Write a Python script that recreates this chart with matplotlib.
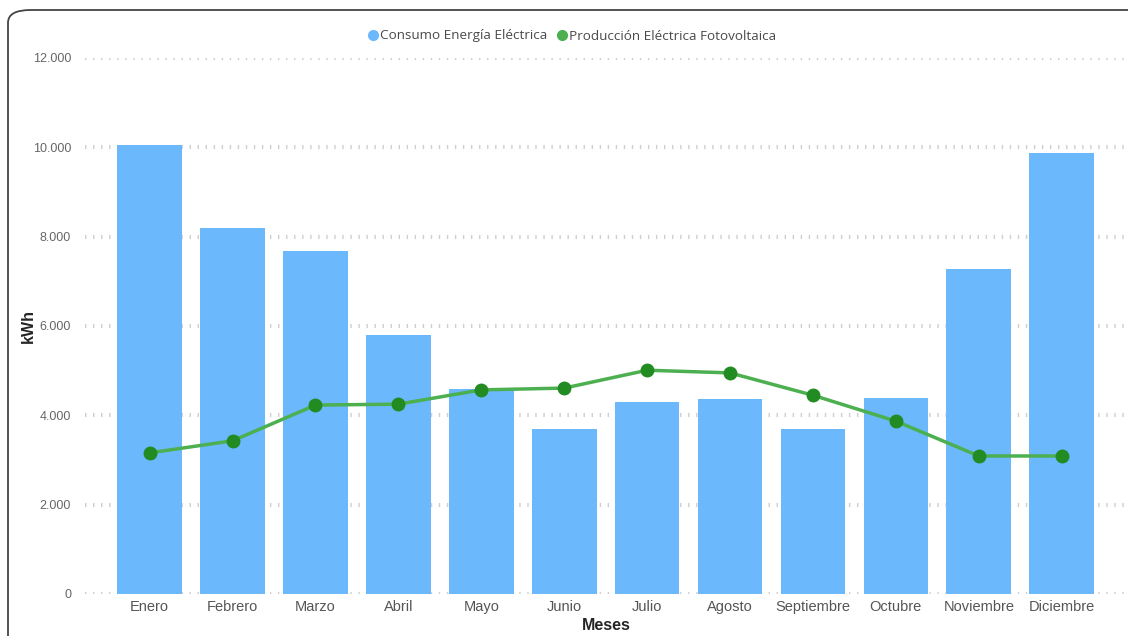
import matplotlib.pyplot as plt
import numpy as np
from matplotlib.patches import FancyBboxPatch
from matplotlib.lines import Line2D

meses = ['Enero', 'Febrero', 'Marzo', 'Abril', 'Mayo', 'Junio', 'Julio',
         'Agosto', 'Septiembre', 'Octubre', 'Noviembre', 'Diciembre']
consumo = [10050, 8190, 7680, 5800, 4590, 3690, 4300, 4370, 3690, 4390, 7280, 9870]
produccion = [3160, 3430, 4230, 4250, 4570, 4610, 5010, 4950, 4450, 3870, 3090, 3090]
yticks = [0, 2000, 4000, 6000, 8000, 10000, 12000]
ytick_labels = ['0', '2.000', '4.000', '6.000', '8.000', '10.000', '12.000']

bar_color = '#6cb8fd'
line_color = '#4caf50'
marker_color = '#228b22'

fig = plt.figure(figsize=(11.28, 6.36), dpi=100)
ax = fig.add_axes([85/1128, 1-594/636, 1-85/1128, (594-58)/636])

# rounded card border
card = FancyBboxPatch((8/1128, -0.05), 1.2, 1-10/636+0.05,
                      boxstyle='round,pad=0,rounding_size=0.02',
                      transform=fig.transFigure, facecolor='none',
                      edgecolor='#444444', linewidth=1.3, zorder=0)
fig.patches.append(card)

x = np.arange(len(meses))

# dotted gridlines made of short vertical ticks
for yv in yticks:
    ax.axhline(yv, color='#cfcfcf', linewidth=3, linestyle=(0, (0.33, 1.6)),
               zorder=0)

ax.bar(x, consumo, width=0.78, color=bar_color, zorder=2)
ax.plot(x, produccion, color=line_color, linewidth=2.5, zorder=3)
ax.plot(x, produccion, linestyle='none', marker='o', markersize=9,
        color=marker_color, zorder=4)

ax.set_xlim(-0.78, 11.8)
ax.set_ylim(0, 12000)
ax.set_yticks(yticks)
ax.set_yticklabels(ytick_labels, fontsize=9, color='#666666', family='Liberation Sans')
ax.set_xticks(x)
ax.set_xticklabels(meses, fontsize=10.5, color='#555555', family='Liberation Sans')
ax.tick_params(length=0, axis='y', pad=10)
ax.tick_params(length=0, axis='x', pad=4)
for s in ax.spines.values():
    s.set_visible(False)
ax.set_facecolor('none')

fig.text(28/1128, 1-326/636, 'kWh', rotation=90, ha='center', va='center',
         fontsize=11.5, fontweight='bold', color='#252525', family='Liberation Sans')
fig.text(606/1128, 1-625/636, 'Meses', ha='center', va='center',
         fontsize=11.5, fontweight='bold', color='#252525', family='Liberation Sans')

handles = [Line2D([], [], linestyle='none', marker='o', markersize=7, color=bar_color),
           Line2D([], [], linestyle='none', marker='o', markersize=7, color=line_color)]
fig.legend(handles, ['Consumo Energía Eléctrica', 'Producción Eléctrica Fotovoltaica'],
           loc='center', bbox_to_anchor=(571/1128, 1-36/636), ncol=2, frameon=False,
           handletextpad=0.0, columnspacing=0.6, handlelength=1.0,
           prop={'family': 'Open Sans', 'size': 9.7})
for t in fig.legends[0].get_texts():
    t.set_color('#4a4a4a')

fig.savefig('out.png', dpi=100)
